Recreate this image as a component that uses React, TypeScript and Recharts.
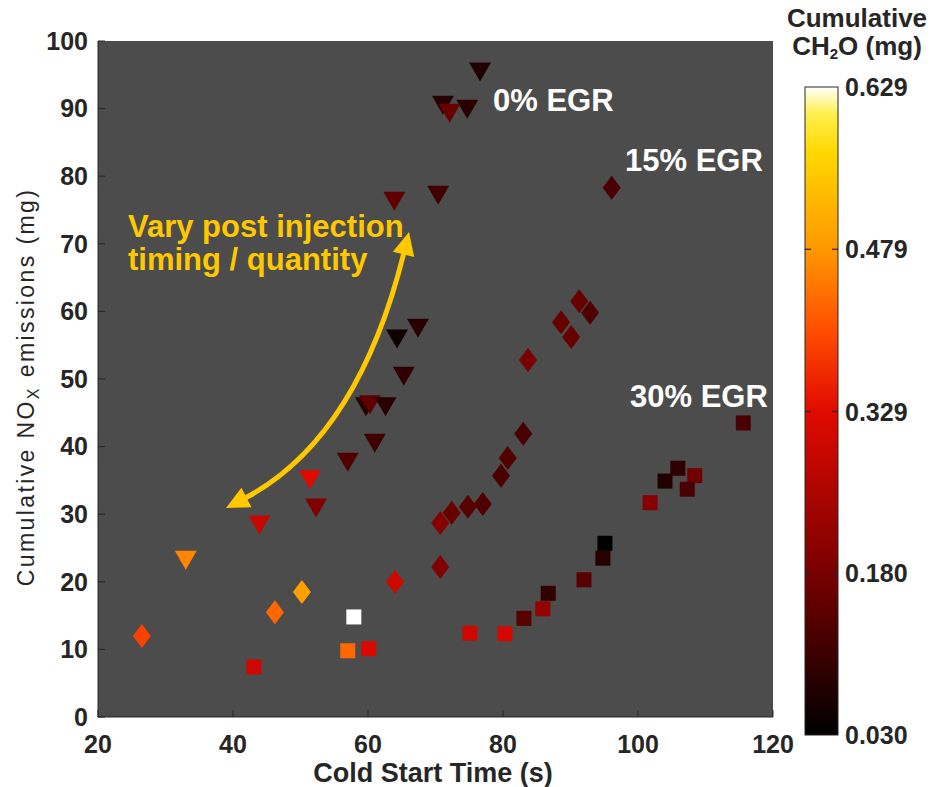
import { CartesianGrid, Scatter, ScatterChart, XAxis, YAxis } from "recharts";

// 0% EGR (down triangles)
const egr0Time = [33.0, 43.9, 51.4, 52.3, 57.0, 59.7, 60.3, 62.6, 61.0, 64.3, 67.4, 65.3, 63.9, 70.4, 71.1, 72.1, 74.7, 76.6];
const egr0Nox = [23.2, 28.4, 35.1, 30.9, 37.7, 45.9, 46.2, 45.9, 40.5, 55.9, 57.5, 50.4, 76.3, 77.2, 90.5, 89.3, 89.9, 95.4];
const egr0Ch2o = [0.46, 0.29, 0.33, 0.19, 0.13, 0.08, 0.15, 0.08, 0.11, 0.05, 0.08, 0.09, 0.15, 0.11, 0.08, 0.16, 0.08, 0.07];

// 15% EGR (diamonds)
const egr15Time = [26.5, 46.2, 50.2, 64.0, 70.7, 70.7, 72.4, 74.8, 77.0, 79.7, 80.7, 83.0, 83.7, 88.6, 91.3, 92.9, 90.1, 96.1];
const egr15Nox = [12.0, 15.5, 18.5, 20.0, 22.2, 28.7, 30.2, 31.1, 31.5, 35.7, 38.3, 41.9, 52.8, 58.4, 61.5, 59.8, 56.2, 78.3];
const egr15Ch2o = [0.39, 0.43, 0.49, 0.3, 0.19, 0.2, 0.16, 0.14, 0.13, 0.12, 0.13, 0.12, 0.18, 0.16, 0.16, 0.13, 0.16, 0.12];

// 30% EGR (squares)
const egr30Time = [43.1, 57.0, 60.1, 57.9, 75.1, 80.3, 83.1, 85.9, 86.7, 92.0, 94.8, 95.1, 101.8, 104.0, 105.9, 108.4, 107.3, 115.6];
const egr30Nox = [7.4, 9.8, 10.1, 14.8, 12.4, 12.3, 14.6, 16.0, 18.3, 20.3, 23.5, 25.7, 31.7, 34.9, 36.8, 35.7, 33.7, 43.5];
const egr30Ch2o = [0.3, 0.43, 0.32, 0.629, 0.3, 0.31, 0.14, 0.22, 0.09, 0.14, 0.08, 0.03, 0.2, 0.07, 0.09, 0.17, 0.12, 0.12];

const xTicks = [20, 40, 60, 80, 100, 120];
const yTicks = [0, 10, 20, 30, 40, 50, 60, 70, 80, 90, 100];
const colorTicks = [0.03, 0.18, 0.329, 0.479, 0.629];
const cMin = 0.03;
const cMax = 0.629;

const FONT = "'Liberation Sans', Arial, sans-serif";
const INK = "#262626";
const YELLOW = "#ffc800";

const cmapStops: [number, number[]][] = [
  [0, [0, 0, 0]],
  [0.25, [120, 0, 0]],
  [0.5, [225, 10, 0]],
  [0.62, [255, 75, 0]],
  [0.75, [255, 152, 0]],
  [0.9, [255, 216, 0]],
  [0.96, [255, 240, 80]],
  [1, [255, 255, 255]],
];

function cmap(v: number) {
  const t = Math.max(0, Math.min(1, (v - cMin) / (cMax - cMin)));
  for (let i = 1; i < cmapStops.length; i++) {
    const [t1, c1] = cmapStops[i];
    const [t0, c0] = cmapStops[i - 1];
    if (t <= t1) {
      const f = (t - t0) / (t1 - t0);
      const c = c0.map((a, k) => Math.round(a + (c1[k] - a) * f));
      return `rgb(${c[0]},${c[1]},${c[2]})`;
    }
  }
  return "#fff";
}

const toPoints = (xs: number[], ys: number[], cs: number[]) => xs.map((x, i) => ({ x, y: ys[i], c: cs[i] }));
const egr0 = toPoints(egr0Time, egr0Nox, egr0Ch2o);
const egr15 = toPoints(egr15Time, egr15Nox, egr15Ch2o);
const egr30 = toPoints(egr30Time, egr30Nox, egr30Ch2o);

const Tri = (p: any) => {
  const { cx, cy, payload } = p;
  return (
    <polygon
      points={`${cx - 11},${cy - 9.5} ${cx + 11},${cy - 9.5} ${cx},${cy + 9.5}`}
      fill={cmap(payload.c)}
    />
  );
};
const Diamond = (p: any) => {
  const { cx, cy, payload } = p;
  return (
    <polygon
      points={`${cx},${cy - 12} ${cx + 9},${cy} ${cx},${cy + 12} ${cx - 9},${cy}`}
      fill={cmap(payload.c)}
    />
  );
};
const Square = (p: any) => {
  const { cx, cy, payload } = p;
  return <rect x={cx - 7.5} y={cy - 7.5} width={15} height={15} fill={cmap(payload.c)} />;
};

const tickStyle = { fontSize: 25, fontWeight: 700, fill: INK, fontFamily: FONT };

// double headed curved arrow, page pixels
function arrowHead(tx: number, ty: number, cx: number, cy: number) {
  const dx = tx - cx;
  const dy = ty - cy;
  const len = Math.hypot(dx, dy);
  const ux = dx / len;
  const uy = dy / len;
  const L = 23;
  const W = 11;
  const bx = tx - L * ux;
  const by = ty - L * uy;
  const pts = `${tx},${ty} ${bx - W * uy},${by + W * ux} ${bx + W * uy},${by - W * ux}`;
  return { pts, bx: tx - (L - 4) * ux, by: ty - (L - 4) * uy };
}

function Overlay() {
  const ctrl = [358, 440];
  const h1 = arrowHead(409, 232, ctrl[0], ctrl[1]);
  const h2 = arrowHead(226, 508, ctrl[0], ctrl[1]);
  const barTop = 87;
  const barBottom = 735;
  const barY = (v: number) => barBottom - ((v - cMin) / (cMax - cMin)) * (barBottom - barTop);
  const gradStops = cmapStops.map(([t, c]) => (
    <stop key={t} offset={`${t * 100}%`} stopColor={`rgb(${c[0]},${c[1]},${c[2]})`} />
  ));
  return (
    <svg width={946} height={787} style={{ position: "absolute", left: 0, top: 0, pointerEvents: "none" }}>
      <defs>
        <linearGradient id="cbar" x1="0" y1="1" x2="0" y2="0">
          {gradStops}
        </linearGradient>
      </defs>
      {/* arrow */}
      <path
        d={`M${h1.bx},${h1.by} Q${ctrl[0]},${ctrl[1]} ${h2.bx},${h2.by}`}
        fill="none"
        stroke={YELLOW}
        strokeWidth={5}
      />
      <polygon points={h1.pts} fill={YELLOW} />
      <polygon points={h2.pts} fill={YELLOW} />

      <g fontFamily={FONT} fontWeight={700} fontSize={31}>
        <text x={128} y={237} fill={YELLOW}>Vary post injection</text>
        <text x={128} y={270} fill={YELLOW}>timing / quantity</text>
        <text x={493} y={111} fill="#fff">0% EGR</text>
        <text x={625} y={171} fill="#fff">15% EGR</text>
        <text x={630} y={407} fill="#fff">30% EGR</text>
      </g>

      {/* axis titles */}
      <text
        x={433}
        y={782}
        textAnchor="middle"
        fontFamily={FONT}
        fontWeight={700}
        fontSize={27}
        fill={INK}
      >
        Cold Start Time (s)
      </text>
      <text
        transform="translate(34,387) rotate(-90)"
        textAnchor="middle"
        fontFamily={FONT}
        fontSize={23}
        fill={INK}
        letterSpacing={2.4}
      >
        Cumulative NO<tspan fontSize={16} dy={5}>X</tspan>
        <tspan dy={-5}> emissions (mg)</tspan>
      </text>

      {/* colorbar */}
      <rect x={805} y={barTop} width={33} height={barBottom - barTop} fill="url(#cbar)" stroke={INK} strokeWidth={1} />
      {colorTicks.map((v) => (
        <g key={v}>
          {v > cMin && v < cMax && (
            <>
              <line x1={805} x2={811} y1={barY(v)} y2={barY(v)} stroke={INK} strokeWidth={1.2} />
              <line x1={832} x2={838} y1={barY(v)} y2={barY(v)} stroke={INK} strokeWidth={1.2} />
            </>
          )}
          <text x={845} y={barY(v) + 9} fontFamily={FONT} fontWeight={700} fontSize={25} fill={INK}>
            {v.toFixed(3)}
          </text>
        </g>
      ))}
      <text x={857} y={27} textAnchor="middle" fontFamily={FONT} fontWeight={700} fontSize={26} fill={INK}>
        Cumulative
      </text>
      <text x={857} y={55} textAnchor="middle" fontFamily={FONT} fontWeight={700} fontSize={26} fill={INK}>
        CH<tspan fontSize={15} dy={4}>2</tspan>
        <tspan dy={-4}>O (mg)</tspan>
      </text>
    </svg>
  );
}

export default function App() {
  return (
    <div style={{ position: "absolute", left: 0, top: 0, width: 946, height: 787, background: "#fff" }}>
      <ScatterChart width={946} height={787} margin={{ top: 41, right: 173, bottom: 30, left: 38 }}>
        <CartesianGrid horizontal={false} vertical={false} fill="#4c4c4c" />
        <XAxis
          xAxisId="b"
          type="number"
          dataKey="x"
          domain={[20, 120]}
          ticks={xTicks}
          height={40}
          tickSize={-7}
          tickMargin={25}
          tick={tickStyle}
          stroke={INK}
          axisLine={{ stroke: INK }}
          tickLine={{ stroke: INK }}
        />
        <XAxis
          xAxisId="t"
          orientation="top"
          type="number"
          dataKey="x"
          domain={[20, 120]}
          ticks={xTicks}
          height={0}
          tickSize={-7}
          tickFormatter={() => ""}
          axisLine={{ stroke: INK }}
          tickLine={{ stroke: INK }}
        />
        <YAxis
          yAxisId="l"
          type="number"
          dataKey="y"
          domain={[0, 100]}
          ticks={yTicks}
          width={60}
          tickSize={-7}
          tickMargin={17}
          tick={tickStyle}
          axisLine={{ stroke: INK }}
          tickLine={{ stroke: INK }}
        />
        <YAxis
          yAxisId="r"
          orientation="right"
          type="number"
          dataKey="y"
          domain={[0, 100]}
          ticks={yTicks}
          width={0}
          tickSize={-7}
          tickFormatter={() => ""}
          axisLine={{ stroke: INK }}
          tickLine={{ stroke: INK }}
        />
        <Scatter xAxisId="b" yAxisId="l" data={egr30} shape={Square} isAnimationActive={false} />
        <Scatter xAxisId="b" yAxisId="l" data={egr15} shape={Diamond} isAnimationActive={false} />
        <Scatter xAxisId="b" yAxisId="l" data={egr0} shape={Tri} isAnimationActive={false} />
      </ScatterChart>
      <Overlay />
    </div>
  );
}
